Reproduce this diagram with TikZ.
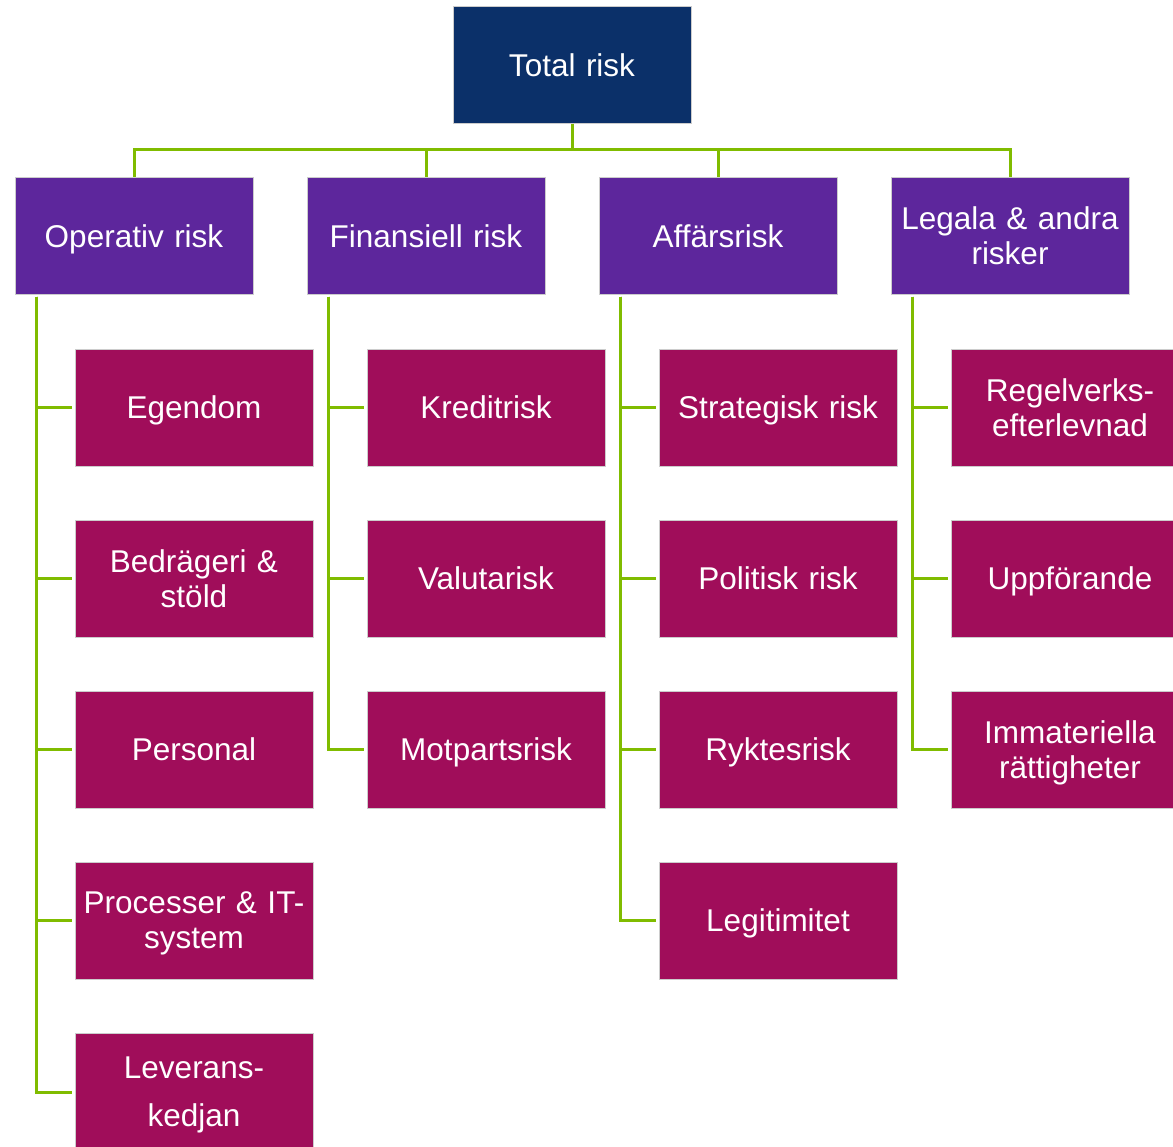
\documentclass[tikz,border=0pt]{standalone}
\usepackage{fontspec}
\setmainfont{Liberation Sans}
\definecolor{navy}{HTML}{0B3069}
\definecolor{lvtwo}{HTML}{5D269C}
\definecolor{leaf}{HTML}{A00D5A}
\definecolor{conn}{HTML}{80BC00}
\newcommand\nodesc[1]{\raisebox{0pt}[\height][0pt]{#1}}
\tikzset{
  box/.style={inner sep=0pt, minimum width=238pt, minimum height=117pt, text width=236pt, align=center, text=white, font=\fontsize{31.5}{35}\selectfont, draw=white!80!black, line width=0.4pt},
  flat/.style={text depth=0pt},
  topbox/.style={box, fill=navy},
  midbox/.style={box, fill=lvtwo},
  leafbox/.style={box, fill=leaf},
  link/.style={draw=conn, line width=3pt}
}
\begin{document}
\begin{tikzpicture}[x=1pt,y=1pt]
\useasboundingbox (0,0) rectangle (1173,-1147);
\node[topbox, flat] (top) at (572,-65) {Total risk};
\node[midbox, flat] (op) at (134,-236) {Operativ risk};
\node[midbox, flat] (fi) at (426,-236) {Finansiell risk};
\node[midbox, flat] (af) at (718,-236) {Affärsrisk};
\node[midbox] (le) at (1010,-236) {Legala \& andra\\risker};

\node[leafbox, flat] (op1) at (194,-407.5) {Egendom};
\node[leafbox] (op2) at (194,-578.5) {Bedrägeri \&\\stöld};
\node[leafbox, flat] (op3) at (194,-749.5) {Personal};
\node[leafbox] (op4) at (194,-920.5) {Processer \& IT-\\\nodesc{system}};
\node[leafbox, font=\fontsize{31.5}{48}\selectfont] (op5) at (194,-1092) {Leverans-\\\nodesc{kedjan}};

\node[leafbox, flat] (fi1) at (486,-407.5) {Kreditrisk};
\node[leafbox, flat] (fi2) at (486,-578.5) {Valutarisk};
\node[leafbox, flat] (fi3) at (486,-749.5) {Motpartsrisk};

\node[leafbox, flat] (af1) at (778,-407.5) {Strategisk risk};
\node[leafbox, flat] (af2) at (778,-578.5) {Politisk risk};
\node[leafbox, flat] (af3) at (778,-749.5) {Ryktesrisk};
\node[leafbox, flat] (af4) at (778,-920.5) {Legitimitet};

\node[leafbox] (le1) at (1070,-407.5) {Regelverks-\\efterlevnad};
\node[leafbox, flat] (le2) at (1070,-578.5) {Uppförande};
\node[leafbox] (le3) at (1070,-749.5) {Immateriella\\\nodesc{rättigheter}};

\coordinate (hub) at (572,-150);
\draw[link] (top.south) -- (hub);
\draw[link] (hub) -| (op.north);
\draw[link] (hub) -| (fi.north);
\draw[link] (hub) -| (af.north);
\draw[link] (hub) -| (le.north);

\foreach \p/\kids in {op/{op1,op2,op3,op4,op5}, fi/{fi1,fi2,fi3}, af/{af1,af2,af3,af4}, le/{le1,le2,le3}}{
  \foreach \k in \kids {
    \draw[link, shorten >=3pt] ([xshift=22pt,yshift=-2pt]\p.south west) |- (\k.west);
  }
}
\end{tikzpicture}
\end{document}
